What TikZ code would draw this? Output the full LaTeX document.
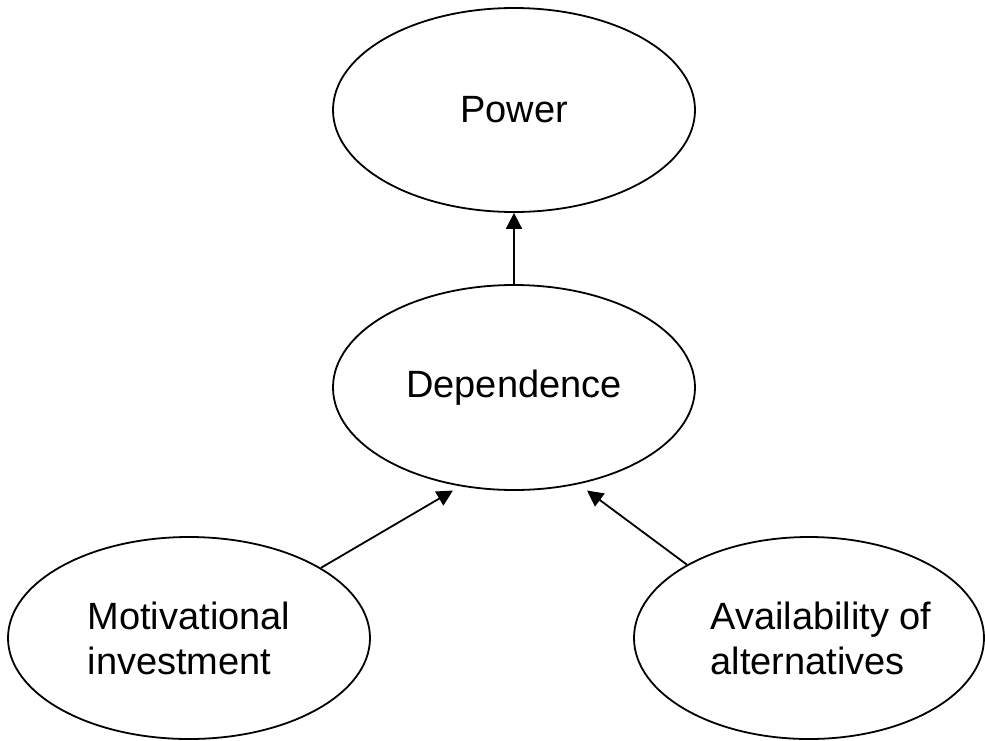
\documentclass[tikz,border=0pt]{standalone}
\usepackage{fontspec}
\setmainfont{Liberation Sans}
\usetikzlibrary{shapes.geometric,arrows.meta,calc}
\begin{document}
\begin{tikzpicture}[x=0.5pt,y=-0.5pt,
  bubble/.style={draw, ellipse, line width=0.9pt, inner sep=0pt,
    font=\fontsize{19}{22.5}\selectfont, align=left},
  link/.style={line width=0.9pt, -{Triangle[length=8pt,width=8pt]}}]
\useasboundingbox (0,0) rectangle (985,740);

% concepts
\node[bubble, minimum width=181pt, minimum height=102pt] (power) at (514,110) {Power};
\node[bubble, minimum width=181pt, minimum height=102.5pt] (dep) at (514,387.5) {Dependence};
\node[bubble, minimum width=181pt, minimum height=101pt] (mot) at (189,638)
  {Motivational\\investment};
\node[bubble, minimum width=175pt, minimum height=101pt] (avail) at (809,638)
  {\hspace*{12pt}Availability of\\\hspace*{12pt}alternatives};

% arrow ends just below the Dependence ellipse
\coordinate (depl) at ($(dep.center)+(-61,103)$);
\coordinate (depr) at ($(dep.center)+(73,103)$);

% influences
\draw[link] (dep.north) -- (power.south);
\draw[link] (mot.28.8) -- (depl);
\draw[link] (avail.149.8) -- (depr);
\end{tikzpicture}
\end{document}
